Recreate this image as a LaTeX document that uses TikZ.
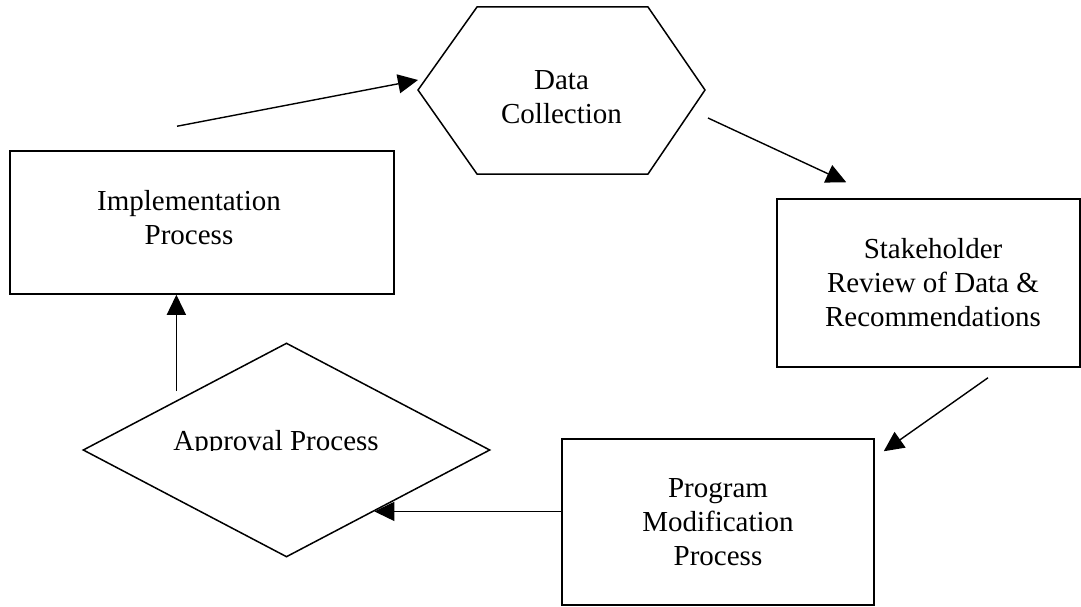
\documentclass[tikz,border=0pt]{standalone}
\usepackage{fontspec}
\setmainfont{Liberation Serif}
\usetikzlibrary{arrows.meta,shapes.geometric,calc}

\tikzset{
  box/.style={draw, line width=1.5pt, inner sep=0pt},
  lbl/.style={align=center, inner sep=0pt},
  flow/.style={line width=1.4pt, -{Triangle[length=20pt,width=19pt]}},
}

\begin{document}
\begin{tikzpicture}[x=1pt, y=-1pt, font=\fontsize{29}{34}\selectfont]
\useasboundingbox (0,0) rectangle (1081,607);

\node[box, minimum width=384pt, minimum height=143pt] (impl) at (202,222.5) {};
\node[lbl] (impltext) at ([shift={(-13,-5)}]impl) {Implementation\\Process};
\node[box, minimum width=303pt, minimum height=168pt] (stake) at (928.5,283) {};
\node[lbl] (staketext) at ([shift={(4.5,0)}]stake) {Stakeholder\\Review of Data \&\\Recommendations};
\node[box, minimum width=312pt, minimum height=166pt] (prog) at (718,522) {};
\node[lbl] (progtext) at (prog) {Program\\Modification\\Process};
\node[box, diamond, minimum width=407pt, minimum height=214pt] (appr) at (286.5,450) {};

% hexagon drawn by hand
\coordinate (dc-w) at (418,90);
\coordinate (dc-e) at (705,90);
\draw[line width=1.5pt] (dc-w) -- (477,7) -- (648,7) -- (dc-e) -- (648,174) -- (477,174) -- cycle;
\node[lbl] (data) at (561.5,97) {Data\\Collection};

% label cut at its baseline
\begin{scope}
\clip (150,400) rectangle (420,450);
\node[anchor=base] (apprtext) at (276,450) {Approval Process};
\end{scope}

\draw[flow] ([shift={(-25,-24)}]impl.north) -- ([shift={(0,-10)}]dc-w);
\draw[flow] ([shift={(3,28)}]dc-e) -- ([shift={(70,-16)}]stake.north west);
\draw[flow] ([shift={(59.5,10)}]stake.south) -- ([shift={(9,13)}]prog.north east);
\coordinate (a4tip) at ($(appr.east)!0.57!(appr.south)$);
\draw[flow] (prog.west |- a4tip) -- (a4tip);
\coordinate (a5) at ([shift={(-8,-5)}]appr.north west);
\draw[flow] (a5) -- (a5 |- impl.south);
\end{tikzpicture}
\end{document}
